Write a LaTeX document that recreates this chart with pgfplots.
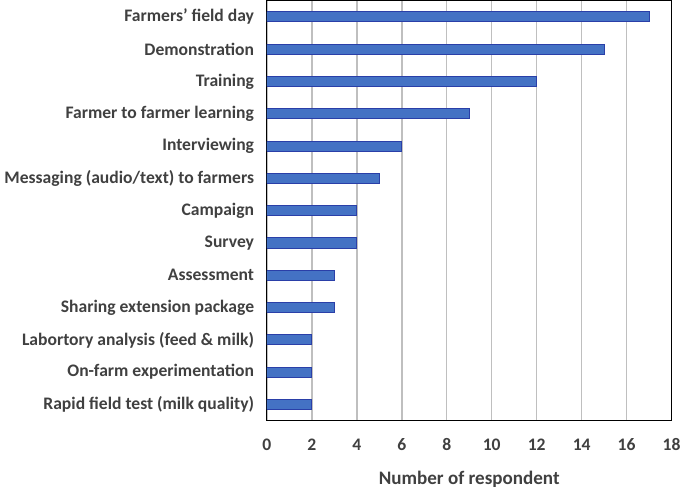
\documentclass[border=0pt]{standalone}
\usepackage{fontspec}
\setmainfont{Carlito}
\usepackage{pgfplots}
\pgfplotsset{compat=1.18}
\definecolor{barfill}{HTML}{4472C4}
\definecolor{baredge}{HTML}{2A3FA8}
\definecolor{txt}{HTML}{404040}
\definecolor{gridc}{HTML}{BFBFBF}
\begin{document}
\begin{tikzpicture}
\begin{axis}[
  scale only axis,
  width=301.5pt, height=312.75pt,
  xbar,
  xmin=0, xmax=18,
  ymin=-0.5, ymax=12.5,
  xtick={0,2,...,18},
  ytick={0,...,12},
  yticklabels={Rapid field test (milk quality),On-farm experimentation,Labortory analysis (feed \& milk),Sharing extension package,Assessment,Survey,Campaign,Messaging (audio/text) to farmers,Interviewing,Farmer to farmer learning,Training,Demonstration,Farmers' field day},
  major tick length=0pt,
  xmajorgrids,
  major grid style={gridc, line width=1.1pt},
  axis line style={black, line width=0.9pt},
  tick label style={font=\bfseries\fontsize{13.1}{15}\selectfont, text=txt},
  xticklabel style={yshift=-10pt},
  yticklabel style={xshift=-6pt},
  xlabel={Number of respondent},
  xlabel style={font=\bfseries\fontsize{14.2}{16}\selectfont, text=txt, yshift=-8pt},
  bar width=0.31,
  /pgf/number format/assume math mode=true,
]
\addplot[fill=barfill, draw=baredge, line width=0.7pt] coordinates {
(2,0) (2,1) (2,2) (3,3) (3,4) (4,5) (4,6) (5,7) (6,8) (9,9) (12,10) (15,11) (17,12)
};
\end{axis}
\end{tikzpicture}
\end{document}
